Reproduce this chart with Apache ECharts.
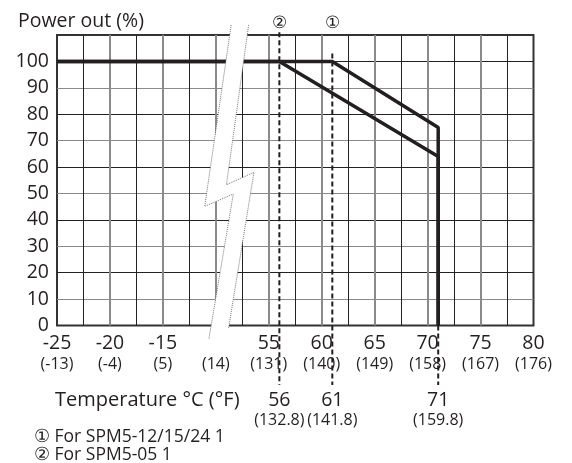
<!DOCTYPE html>
<html><head><meta charset="utf-8">
<script src="https://cdn.jsdelivr.net/npm/echarts@6/dist/echarts.min.js"></script>
<style>html,body{margin:0;padding:0;background:#fff}#c{width:572px;height:463px}</style>
</head><body><div id="c"></div>
<script>
// ---- data ----
const tickTempC = [-25, -20, -15, -10, 55, 60, 65, 70, 75, 80];
const tickLabelC = ['-25', '-20', '-15', '', '55', '60', '65', '70', '75', '80'];
const tickLabelF = ['(-13)', '(-4)', '(5)', '(14)', '(131)', '(140)', '(149)', '(158)', '(167)', '(176)'];
const curve1Temp = [-25, 61, 71, 71];     // ① SPM5-12/15/24
const curve1Power = [100, 100, 75, 0];
const curve2Temp = [-25, 56, 71, 71];     // ② SPM5-05
const curve2Power = [100, 100, 64, 0];
const markTemp = [56, 61, 71];
const markLabelC = ['56', '61', '71'];
const markLabelF = ['(132.8)', '(141.8)', '(159.8)'];
const markTopPower = [111, 103, 0];
const markBottomPower = -22.5;
const noteTemp = [56, 61];
const noteMark = ['②', '①'];
const footnotes = ['① For SPM5-12/15/24 1', '② For SPM5-05 1'];
const yTicks = [0, 10, 20, 30, 40, 50, 60, 70, 80, 90, 100];

// broken axis: -25..-10 and 55..80, each 5°C step = one unit
function pos(t) { return t <= -10 ? (t + 25) / 5 : 4 + (t - 55) / 5; }

const FONT = 'Open Sans';
const TXT = '#231f20';
const chart = echarts.init(document.getElementById('c'), null, {renderer: 'canvas'});

const dashedSeries = markTemp.map((t, i) => ({
  type: 'line', clip: false, symbol: 'none', silent: true, z: 3,
  data: [[pos(t), markTopPower[i]], [pos(t), markBottomPower]],
  lineStyle: {color: '#231f20', width: 2, type: [5, 3]}
}));

const option = {
  animation: false,
  textStyle: {fontFamily: FONT},
  title: {text: 'Power out (%)', left: 13, top: 6,
    textStyle: {fontFamily: FONT, fontSize: 19.5, fontWeight: 'normal', color: TXT}},
  grid: {left: 57, top: 35, right: 38.5, bottom: 137.5, show: true,
    borderColor: '#333', borderWidth: 2, backgroundColor: 'transparent'},
  xAxis: {
    type: 'value', min: 0, max: 9, interval: 1,
    axisLine: {show: false}, axisTick: {show: false},
    splitLine: {show: true, showMinLine: false, showMaxLine: false, lineStyle: {color: '#8a8a8a', width: 2}},
    minorTick: {show: false, splitNumber: 2},
    minorSplitLine: {show: true, lineStyle: {color: '#222', width: 1}},
    axisLabel: {
      margin: 7, fontFamily: FONT,
      formatter: v => {
        const i = Math.round(v);
        if (Math.abs(v - i) > 1e-6) return '';
        return '{a|' + tickLabelC[i] + '}\n{b|' + tickLabelF[i] + '}';
      },
      rich: {
        a: {fontSize: 19.5, lineHeight: 21, color: TXT, fontFamily: FONT},
        b: {fontSize: 16, lineHeight: 22, color: TXT, fontFamily: FONT}
      }
    }
  },
  yAxis: {
    type: 'value', min: 0, max: 110, interval: 10,
    axisLine: {show: false}, axisTick: {show: false},
    splitLine: {show: true, showMinLine: false, showMaxLine: false,
      lineStyle: {color: ['#8a8a8a', '#222'], width: 1}},
    axisLabel: {margin: 8, fontSize: 19.5, color: TXT, fontFamily: FONT,
      formatter: v => yTicks.includes(v) ? String(v) : ''}
  },
  series: [
    ...dashedSeries,
    {type: 'line', symbol: 'none', silent: true, z: 4,
      data: curve1Temp.map((t, i) => [pos(t), curve1Power[i]]),
      lineStyle: {color: '#231f20', width: 3.5}},
    {type: 'line', symbol: 'none', silent: true, z: 4,
      data: curve2Temp.map((t, i) => [pos(t), curve2Power[i]]),
      lineStyle: {color: '#231f20', width: 3.5}},
    {type: 'scatter', symbolSize: 0, clip: false, silent: true, itemStyle: {opacity: 1},
      data: markTemp.map((t, i) => ({value: [pos(t), markBottomPower],
        label: {formatter: '{a|' + markLabelC[i] + '}\n{b|' + markLabelF[i] + '}'}})),
      label: {show: true, position: 'bottom', distance: 6, opacity: 1,
        rich: {
          a: {fontSize: 19.5, lineHeight: 20, color: TXT, fontFamily: FONT},
          b: {fontSize: 16, lineHeight: 19, color: TXT, fontFamily: FONT}
        }}},
    {type: 'scatter', symbolSize: 0, clip: false, silent: true, itemStyle: {opacity: 1},
      data: noteTemp.map((t, i) => ({value: [pos(t), 114.5], label: {formatter: noteMark[i]}})),
      label: {show: true, position: 'inside', fontSize: 17, color: TXT, opacity: 1, fontFamily: FONT}}
  ]
};
chart.setOption(option);

// break symbol (lightning bolt) placed in axis units
const boltLeft = [[3.29, 113.8], [2.79, 45.1], [3.33, 49.8], [2.87, -4.9]];
const boltRight = [[3.62, 113.8], [3.20, 53.3], [3.72, 58.0], [3.24, -1.1]];
const px = p => chart.convertToPixel({gridIndex: 0}, p);
const L = boltLeft.map(px), R = boltRight.map(px);
const gridRect = chart.getModel().getComponent('grid').coordinateSystem.getRect();
chart.setOption({
  graphic: [
    {type: 'polygon', z: 50, shape: {points: L.concat(R.slice().reverse())}, style: {fill: '#fff', stroke: null}},
    {type: 'polyline', z: 51, shape: {points: L}, style: {stroke: '#555', lineWidth: 0.8, lineDash: [1, 1], fill: null}},
    {type: 'polyline', z: 51, shape: {points: R}, style: {stroke: '#555', lineWidth: 0.8, lineDash: [1, 1], fill: null}},
    {type: 'text', z: 60, left: gridRect.x - 2, top: 390,
      style: {text: 'Temperature °C (°F)', font: '20px "' + FONT + '"', fill: TXT}},
    {type: 'text', z: 60, left: 34, top: 428,
      style: {text: footnotes[0], font: '17.5px "' + FONT + '"', fill: TXT}},
    {type: 'text', z: 60, left: 34, top: 446,
      style: {text: footnotes[1], font: '17.5px "' + FONT + '"', fill: TXT}}
  ]
});
</script></body></html>
